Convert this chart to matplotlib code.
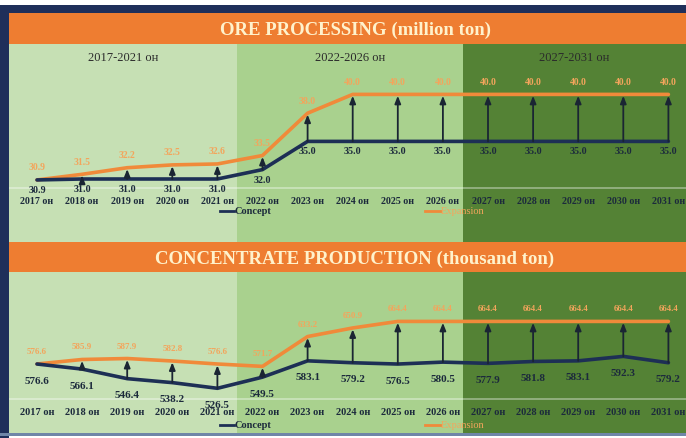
import matplotlib
matplotlib.use("Agg")
import matplotlib.pyplot as plt
from matplotlib.patches import Rectangle
from matplotlib.transforms import blended_transform_factory

# ---------------- data ----------------
years = [2017, 2018, 2019, 2020, 2021, 2022, 2023, 2024, 2025, 2026,
         2027, 2028, 2029, 2030, 2031]
year_labels = [f"{y} он" for y in years]

ore_concept = [30.9, 31.0, 31.0, 31.0, 31.0, 32.0, 35.0, 35.0, 35.0, 35.0,
               35.0, 35.0, 35.0, 35.0, 35.0]
ore_expansion = [30.9, 31.5, 32.2, 32.5, 32.6, 33.5, 38.0, 40.0, 40.0, 40.0,
                 40.0, 40.0, 40.0, 40.0, 40.0]

conc_concept = [576.6, 566.1, 546.4, 538.2, 526.5, 549.5, 583.1, 579.2, 576.5,
                580.5, 577.9, 581.8, 583.1, 592.3, 579.2]
conc_expansion = [576.6, 585.9, 587.9, 582.8, 576.6, 571.7, 633.2, 650.9, 664.4,
                  664.4, 664.4, 664.4, 664.4, 664.4, 664.4]

period_labels = ["2017-2021 он", "2022-2026 он", "2027-2031 он"]
titles = ["ORE PROCESSING (million ton)", "CONCENTRATE PRODUCTION (thousand ton)"]
series_names = ["Concept", "Expansion"]

# ---------------- style ----------------
W, H = 686, 439
NAVY = "#1f2f5a"
ORANGE_BANNER = "#ee7d31"
ORANGE_LINE = "#f08a3a"
ORANGE_TXT = "#f3a55c"
CONCEPT = "#1d2f55"
ARROW = "#1a2533"
TXT = "#1c2a3c"
BAND_COLORS = ["#c6e0b4", "#a9d18e", "#548235"]
SERIF = ["Liberation Serif", "DejaVu Serif"]

fig = plt.figure(figsize=(W / 100, H / 100), dpi=100)
fig.patch.set_facecolor("white")


def frect(x0, y0, x1, y1, color, z=0):
    """rectangle in pixel coordinates measured from top-left"""
    fig.add_artist(Rectangle((x0 / W, 1 - y1 / H), (x1 - x0) / W, (y1 - y0) / H,
                             transform=fig.transFigure, facecolor=color,
                             edgecolor="none", zorder=z))


def ftext(x, y, s, **kw):
    fig.text(x / W, 1 - y / H, s, **kw)


# frame
frect(0, 6, W, 14, NAVY)
frect(0, 6, 9, H, NAVY)
frect(9, 14, W, 45, ORANGE_BANNER)
band_x = [9, 237, 463, W]
for i in range(3):
    frect(band_x[i], 45, band_x[i + 1], 243, BAND_COLORS[i])
    frect(band_x[i], 273, band_x[i + 1], 434, BAND_COLORS[i])
frect(9, 243, W, 273, ORANGE_BANNER)
frect(0, 434, W, 437, "#6f86a8")

# faint separator lines (below the data axes)
for yy in (188, 399):
    frect(9, yy, W, yy + 1.5, (1, 1, 1, 0.35), z=0.5)

ftext(355, 30, titles[0], ha="center", va="center", fontsize=13.5,
      fontweight="bold", color="#fff2cc", family=SERIF)
ftext(355, 259, titles[1], ha="center", va="center", fontsize=13.5,
      fontweight="bold", color="#fff2cc", family=SERIF)
for i in range(3):
    ftext((band_x[i] + band_x[i + 1]) / 2, 58, period_labels[i], ha="center",
          va="center", fontsize=9, color="#2b2b2b", family=SERIF)

# ---------------- panels ----------------
x = list(range(len(years)))
x_left = (10 - 37) / 45.1
x_right = (W - 37) / 45.1


def panel(top, bottom, ylim, concept, expansion, fmt, year_y, legend_y,
          sep_c, sep_e, vfs, ofs, yfs):
    ax = fig.add_axes([10 / W, 1 - bottom / H, (W - 10) / W, (bottom - top) / H])
    ax.set_zorder(2)
    ax.set_xlim(x_left, x_right)
    ax.set_ylim(*ylim)
    ax.axis("off")
    ax.patch.set_alpha(0)
    ax.plot(x, expansion, color=ORANGE_LINE, lw=2.6, zorder=3,
            solid_capstyle="round", solid_joinstyle="round")
    ax.plot(x, concept, color=CONCEPT, lw=2.6, zorder=4,
            solid_capstyle="round", solid_joinstyle="round")
    for xi, c, e in zip(x, concept, expansion):
        if e - c > 0.002 * (ylim[1] - ylim[0]):
            ax.annotate("", xy=(xi, e), xytext=(xi, c),
                        arrowprops=dict(arrowstyle="-|>,head_length=0.45,head_width=0.18",
                                        color=ARROW, lw=1.3, shrinkA=0, shrinkB=1),
                        zorder=5)
        ax.annotate(fmt.format(c), (xi, c), xytext=(0, -sep_c),
                    textcoords="offset pixels", ha="center", va="center",
                    fontsize=vfs, fontweight="bold", color=TXT, family=SERIF,
                    zorder=6)
        ax.annotate(fmt.format(e), (xi, e), xytext=(0, sep_e),
                    textcoords="offset pixels", ha="center", va="center",
                    fontsize=ofs, fontweight="bold", color=ORANGE_TXT,
                    family=SERIF, zorder=6)
    tr = blended_transform_factory(ax.transData, ax.transAxes)
    hgt = bottom - top
    for xi, lab in zip(x, year_labels):
        ax.text(xi, (bottom - year_y) / hgt, lab, transform=tr, ha="center",
                va="center", fontsize=yfs, fontweight="bold", color=TXT,
                family=SERIF)
    # legend
    ly = (bottom - legend_y) / hgt
    px = lambda p: (p - 37) / 45.1
    ax.plot([px(220), px(234)], [ly, ly], transform=tr, color=CONCEPT, lw=2)
    ax.text(px(235), ly, series_names[0], transform=tr, ha="left", va="center",
            fontsize=7.5, fontweight="bold", color=TXT, family=SERIF)
    ax.plot([px(425), px(440)], [ly, ly], transform=tr, color=ORANGE_LINE, lw=2)
    ax.text(px(441), ly, series_names[1], transform=tr, ha="left", va="center",
            fontsize=7.5, color=ORANGE_TXT, family=SERIF)
    return ax


# top: pixel y = 180 - (v-31)*9.4
k1 = 9.4
panel(45, 243, (31 - (243 - 180) / k1, 31 + (180 - 45) / k1),
      ore_concept, ore_expansion, "{:.1f}", 201.5, 212, 9.5, 13, 7.2, 7, 7.2)

# bottom: pixel y = 365 - (v-576.6)*0.485
k2 = 0.485
panel(273, 434, (576.6 - (434 - 365) / k2, 576.6 + (365 - 273) / k2),
      conc_concept, conc_expansion, "{:.1f}", 413, 426, 16, 13, 8, 6.5, 7.5)

fig.savefig("out.png", dpi=100)
